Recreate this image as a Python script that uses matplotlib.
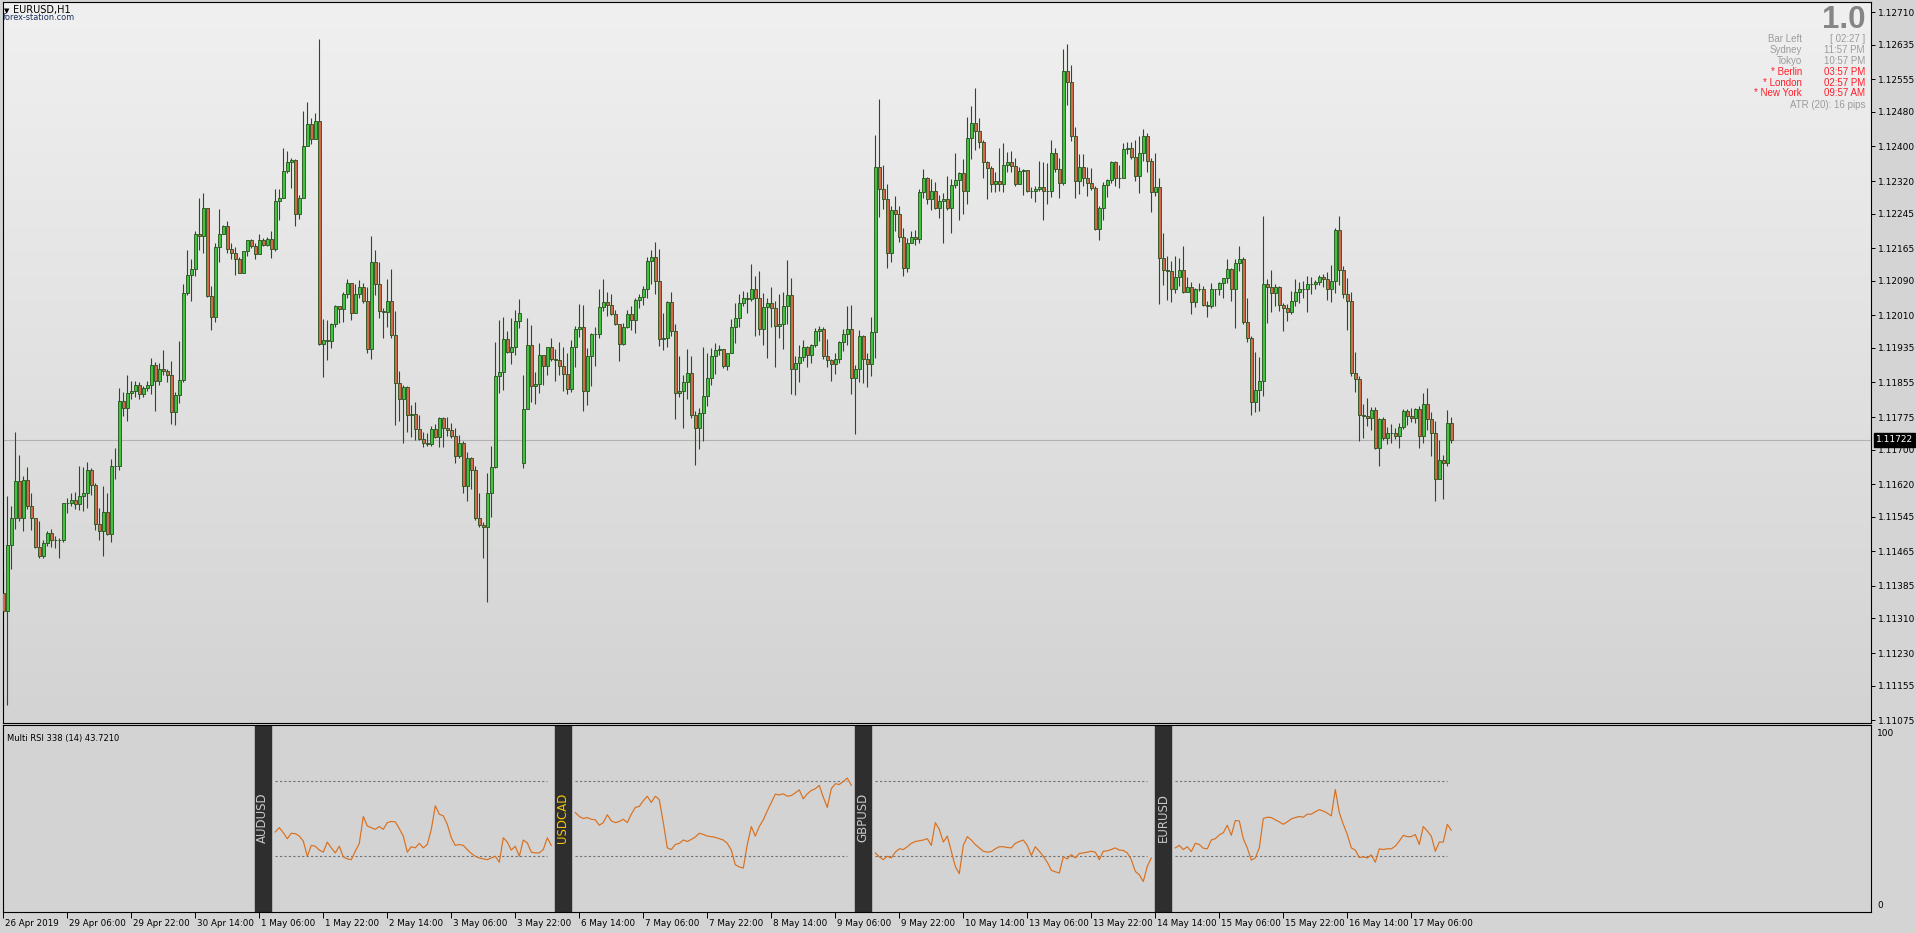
import matplotlib
matplotlib.use('Agg')
import matplotlib.pyplot as plt
import numpy as np
from matplotlib.colors import LinearSegmentedColormap
from matplotlib.transforms import ScaledTranslation, blended_transform_factory

plt.rcParams['font.family'] = ['DejaVu Sans']

# EURUSD H1, prices in points above 1.10000 (1 point = 0.00001)
first_open = 1369
gap_open = {130: 1669}   # weekend gap, 6 May open

close = [
    1328, 1480, 1541, 1628, 1541, 1630, 1569, 1541, 1475, 1455, 1483, 1508, 1492, 1490, 1490, 1577, 1577, 1584, 1574, 1592,
    1600, 1653, 1617, 1529, 1511, 1556, 1504, 1661, 1663, 1813, 1795, 1831, 1836, 1848, 1828, 1841, 1848, 1895, 1859, 1887,
    1882, 1871, 1787, 1826, 1861, 2061, 2103, 2118, 2197, 2194, 2258, 2054, 2006, 2168, 2197, 2217, 2163, 2153, 2141, 2108,
    2158, 2183, 2171, 2151, 2183, 2173, 2186, 2163, 2273, 2280, 2344, 2364, 2368, 2244, 2281, 2400, 2451, 2418, 2459, 1943,
    1953, 1950, 1990, 2031, 2024, 2059, 2085, 2016, 2059, 2075, 2044, 1931, 2134, 2083, 2019, 2017, 2044, 1965, 1854, 1816,
    1844, 1779, 1783, 1747, 1724, 1714, 1712, 1747, 1729, 1772, 1750, 1744, 1732, 1686, 1714, 1615, 1681, 1653, 1541, 1526,
    1521, 1599, 1660, 1869, 1878, 1955, 1925, 1937, 1996, 2016, 1793, 1941, 1846, 1851, 1919, 1892, 1937, 1909, 1907, 1892,
    1874, 1839, 1937, 1978, 1983, 1834, 1915, 1966, 1966, 2029, 2041, 2033, 2013, 1990, 1943, 1982, 2013, 1998, 2045, 2053,
    2070, 2135, 2145, 2090, 1956, 1958, 2041, 1973, 1830, 1835, 1857, 1877, 1779, 1750, 1785, 1824, 1864, 1916, 1930, 1933,
    1893, 1924, 1982, 2004, 2039, 2051, 2047, 2070, 2049, 1978, 2029, 2039, 2026, 1985, 1989, 2031, 2056, 1886, 1900, 1914,
    1936, 1919, 1941, 1973, 1978, 1915, 1907, 1897, 1908, 1948, 1966, 1978, 1864, 1886, 1962, 1910, 1897, 1971, 2352, 2301,
    2278, 2153, 2252, 2244, 2190, 2120, 2177, 2190, 2187, 2295, 2327, 2279, 2296, 2258, 2273, 2278, 2258, 2310, 2322, 2339,
    2297, 2419, 2455, 2435, 2410, 2364, 2349, 2314, 2319, 2313, 2357, 2364, 2354, 2314, 2344, 2346, 2297, 2297, 2301, 2306,
    2297, 2297, 2385, 2347, 2316, 2575, 2549, 2425, 2320, 2352, 2327, 2315, 2303, 2210, 2258, 2311, 2322, 2364, 2326, 2327,
    2395, 2397, 2376, 2331, 2385, 2424, 2366, 2295, 2307, 2143, 2114, 2112, 2070, 2098, 2114, 2063, 2075, 2040, 2071, 2070,
    2033, 2031, 2070, 2070, 2084, 2095, 2117, 2070, 2131, 2141, 1994, 1958, 1809, 1838, 1858, 2083, 2075, 2062, 2075, 2034,
    2027, 2017, 2042, 2063, 2070, 2070, 2082, 2082, 2087, 2098, 2094, 2070, 2090, 2207, 2114, 2058, 2044, 1876, 1863, 1779,
    1777, 1772, 1791, 1703, 1770, 1726, 1739, 1739, 1732, 1752, 1788, 1777, 1772, 1793, 1731, 1804, 1770, 1739, 1633, 1676,
    1668, 1762, 1722,
]

high = [
    1417, 1592, 1570, 1741, 1688, 1638, 1660, 1600, 1541, 1536, 1490, 1511, 1516, 1500, 1495, 1577, 1587, 1600, 1602, 1661,
    1660, 1671, 1658, 1622, 1566, 1616, 1599, 1678, 1704, 1841, 1833, 1871, 1858, 1858, 1856, 1846, 1858, 1912, 1902, 1900,
    1930, 1887, 1904, 1833, 1951, 2082, 2161, 2141, 2204, 2281, 2293, 2258, 2077, 2176, 2255, 2219, 2227, 2176, 2168, 2144,
    2158, 2184, 2186, 2176, 2197, 2188, 2191, 2205, 2301, 2301, 2397, 2390, 2374, 2372, 2288, 2481, 2503, 2466, 2478, 2649,
    2001, 2000, 1993, 2034, 2031, 2064, 2093, 2085, 2083, 2092, 2085, 2075, 2192, 2161, 2134, 2027, 2093, 2117, 2019, 1882,
    1848, 1846, 1802, 1810, 1780, 1741, 1737, 1754, 1758, 1775, 1775, 1775, 1762, 1750, 1734, 1719, 1694, 1683, 1663, 1599,
    1533, 1646, 1709, 1948, 2000, 2007, 1973, 2003, 2022, 2047, 1871, 2003, 1988, 1878, 1946, 1919, 1937, 1958, 1932, 1948,
    1937, 1924, 1953, 1986, 2036, 2034, 1934, 1968, 1983, 2070, 2094, 2064, 2059, 2023, 1988, 1992, 2023, 2032, 2051, 2058,
    2078, 2145, 2161, 2179, 2164, 2016, 2043, 2063, 1990, 1915, 1871, 1931, 1915, 1789, 1795, 1937, 1923, 1934, 1946, 1941,
    1931, 1924, 2001, 2039, 2059, 2067, 2064, 2128, 2100, 2112, 2061, 2049, 2075, 2044, 2059, 2063, 2138, 2096, 1916, 1941,
    1954, 1938, 1943, 1981, 1985, 1982, 1955, 1909, 1922, 1951, 1978, 2032, 2034, 1896, 1975, 1965, 1922, 2007, 2426, 2509,
    2357, 2313, 2263, 2286, 2263, 2212, 2188, 2204, 2207, 2301, 2347, 2329, 2325, 2318, 2288, 2293, 2332, 2325, 2385, 2342,
    2370, 2468, 2494, 2535, 2466, 2415, 2366, 2354, 2342, 2397, 2408, 2387, 2389, 2374, 2352, 2347, 2342, 2306, 2308, 2366,
    2364, 2362, 2415, 2397, 2374, 2625, 2636, 2588, 2445, 2383, 2383, 2352, 2349, 2308, 2263, 2318, 2324, 2367, 2366, 2357,
    2408, 2410, 2410, 2415, 2425, 2441, 2431, 2374, 2385, 2328, 2199, 2147, 2136, 2147, 2143, 2169, 2099, 2088, 2074, 2085,
    2077, 2042, 2084, 2070, 2087, 2095, 2139, 2120, 2139, 2170, 2144, 2049, 1963, 1925, 1914, 2239, 2094, 2115, 2083, 2078,
    2039, 2036, 2066, 2094, 2087, 2090, 2100, 2098, 2092, 2102, 2106, 2110, 2126, 2212, 2239, 2123, 2097, 2064, 1926, 1869,
    1805, 1820, 1799, 1799, 1773, 1774, 1751, 1759, 1749, 1762, 1793, 1793, 1795, 1795, 1800, 1831, 1843, 1787, 1765, 1722,
    1688, 1791, 1774,
]

low = [
    1323, 1109, 1424, 1516, 1536, 1511, 1562, 1513, 1472, 1450, 1450, 1478, 1475, 1472, 1450, 1487, 1554, 1570, 1562, 1560,
    1559, 1564, 1595, 1513, 1492, 1453, 1503, 1487, 1631, 1653, 1778, 1767, 1816, 1821, 1816, 1821, 1834, 1828, 1790, 1848,
    1871, 1856, 1760, 1757, 1808, 1856, 2056, 2042, 2100, 2161, 2154, 2052, 1975, 1995, 2134, 2197, 2153, 2139, 2103, 2107,
    2110, 2146, 2166, 2139, 2151, 2171, 2171, 2143, 2158, 2229, 2280, 2339, 2303, 2217, 2232, 2287, 2400, 2405, 2422, 1941,
    1868, 1907, 1935, 1982, 1993, 1995, 2049, 1998, 2016, 2049, 2039, 1922, 1910, 2056, 2003, 1958, 1983, 1958, 1757, 1765,
    1716, 1741, 1729, 1722, 1722, 1706, 1709, 1709, 1726, 1706, 1706, 1732, 1726, 1668, 1681, 1600, 1580, 1609, 1538, 1521,
    1450, 1348, 1543, 1658, 1831, 1838, 1922, 1897, 1919, 1981, 1658, 1797, 1810, 1805, 1831, 1848, 1873, 1905, 1859, 1871,
    1836, 1829, 1833, 1890, 1960, 1790, 1803, 1846, 1892, 1958, 2019, 2008, 2011, 1988, 1905, 1942, 1980, 1975, 1969, 2026,
    2034, 2051, 2082, 2059, 1940, 1929, 1937, 1961, 1771, 1821, 1750, 1816, 1772, 1665, 1702, 1719, 1801, 1849, 1874, 1919,
    1889, 1883, 1922, 1945, 1983, 2031, 2015, 2042, 1963, 1965, 1942, 1912, 1983, 1891, 1958, 1933, 1990, 1829, 1827, 1855,
    1904, 1891, 1899, 1936, 1950, 1909, 1891, 1859, 1874, 1899, 1927, 1941, 1829, 1735, 1856, 1854, 1845, 1870, 1912, 2237,
    2255, 2120, 2132, 2205, 2180, 2100, 2111, 2177, 2172, 2177, 2281, 2266, 2254, 2256, 2234, 2176, 2253, 2199, 2305, 2229,
    2245, 2266, 2370, 2391, 2396, 2328, 2278, 2295, 2295, 2297, 2295, 2342, 2342, 2309, 2313, 2288, 2295, 2281, 2272, 2297,
    2229, 2266, 2283, 2341, 2280, 2311, 2496, 2413, 2280, 2290, 2308, 2286, 2300, 2207, 2183, 2230, 2283, 2315, 2308, 2305,
    2326, 2382, 2371, 2321, 2293, 2367, 2341, 2249, 2285, 2037, 2081, 2046, 2040, 2062, 2077, 2062, 2064, 2012, 2028, 2067,
    2031, 2007, 2026, 2031, 2056, 2051, 2085, 2043, 1980, 2113, 1990, 1948, 1779, 1786, 1790, 1823, 1993, 2017, 2031, 2019,
    1973, 1996, 2014, 2032, 2039, 2049, 2017, 2058, 2070, 2080, 2075, 2046, 2040, 2061, 2080, 2051, 1975, 1870, 1832, 1719,
    1726, 1755, 1746, 1701, 1661, 1722, 1712, 1716, 1724, 1704, 1747, 1757, 1763, 1762, 1704, 1716, 1746, 1685, 1582, 1631,
    1586, 1661, 1716,
]

last_price = 1.11722

price_labels = [1.12710, 1.12635, 1.12555, 1.12480, 1.12400, 1.12320, 1.12245, 1.12165,
                1.12090, 1.12010, 1.11935, 1.11855, 1.11775, 1.11700, 1.11620, 1.11545,
                1.11465, 1.11385, 1.11310, 1.11230, 1.11155, 1.11075]

time_labels = ["26 Apr 2019", "29 Apr 06:00", "29 Apr 22:00", "30 Apr 14:00", "1 May 06:00",
               "1 May 22:00", "2 May 14:00", "3 May 06:00", "3 May 22:00", "6 May 14:00",
               "7 May 06:00", "7 May 22:00", "8 May 14:00", "9 May 06:00", "9 May 22:00",
               "10 May 14:00", "13 May 06:00", "13 May 22:00", "14 May 14:00", "15 May 06:00",
               "15 May 22:00", "16 May 14:00", "17 May 06:00"]

# Multi RSI sub window: one block of 70 bars per symbol
rsi_names = ["AUDUSD", "USDCAD", "GBPUSD", "EURUSD"]
rsi_start = [68, 143, 218, 293]
rsi_audusd = [42.8, 45.1, 42.4, 39.2, 42.1, 41.9, 40.6, 37.9, 29.8, 35.6,
              35.2, 33.1, 32.0, 37.4, 34.3, 31.6, 35.2, 29.5, 28.4, 28.0,
              32.5, 36.7, 51.1, 46.0, 45.1, 44.2, 45.7, 44.2, 47.8, 48.4,
              48.2, 44.6, 40.6, 32.0, 34.9, 34.3, 36.7, 34.3, 36.1, 44.2,
              56.8, 52.3, 51.4, 46.9, 39.7, 35.6, 36.1, 35.6, 33.4, 31.3,
              29.8, 28.9, 28.4, 28.0, 28.9, 29.8, 26.6, 39.7, 37.4, 33.1,
              35.2, 29.8, 38.5, 37.0, 32.0, 31.6, 31.6, 33.4, 39.7, 35.6]
rsi_usdcad = [53.2, 51.1, 50.0, 50.5, 49.6, 49.3, 46.4, 47.8, 52.0, 48.7,
              47.8, 48.4, 49.6, 47.8, 52.3, 55.9, 56.5, 59.5, 61.9, 58.6,
              61.9, 60.1, 47.8, 34.3, 33.4, 36.1, 36.7, 38.5, 37.7, 38.8,
              40.1, 42.1, 41.5, 40.6, 40.3, 39.9, 39.2, 38.5, 36.7, 33.1,
              25.3, 24.1, 23.5, 36.1, 45.7, 40.6, 45.7, 49.3, 54.1, 58.6,
              63.0, 62.6, 63.2, 61.9, 62.3, 63.7, 65.3, 60.5, 63.2, 65.0,
              65.9, 67.7, 61.4, 55.9, 65.9, 68.6, 68.2, 69.8, 71.6, 67.7]
rsi_gbpusd = [31.6, 29.5, 28.0, 29.8, 28.9, 32.0, 33.8, 33.4, 34.9, 36.7,
              37.7, 38.1, 38.5, 39.2, 35.6, 47.8, 44.2, 37.4, 40.6, 32.5,
              24.4, 20.5, 35.6, 40.3, 38.5, 36.1, 34.3, 32.5, 32.0, 32.3,
              33.8, 34.9, 34.9, 34.5, 34.3, 36.7, 37.7, 38.5, 35.6, 30.2,
              34.9, 32.5, 29.8, 26.6, 22.3, 21.5, 20.8, 29.5, 28.4, 30.7,
              28.9, 31.3, 31.6, 32.0, 32.5, 32.0, 28.0, 32.5, 32.7, 33.4,
              34.3, 33.1, 32.9, 31.6, 28.0, 21.7, 19.9, 16.3, 24.4, 28.9]
rsi_eurusd = [34.3, 35.6, 33.4, 34.9, 32.3, 36.7, 36.1, 34.1, 33.8, 38.5,
              39.2, 41.2, 42.4, 46.4, 41.0, 48.9, 48.7, 39.2, 34.3, 27.7,
              28.9, 34.3, 50.0, 50.7, 50.5, 49.3, 48.2, 46.9, 48.2, 49.8,
              50.5, 51.1, 50.7, 52.3, 52.3, 53.6, 54.7, 54.0, 52.9, 51.4,
              65.5, 53.2, 46.9, 41.5, 34.3, 33.1, 29.1, 29.5, 28.9, 30.5,
              26.6, 33.8, 33.4, 33.8, 33.8, 35.2, 37.9, 41.0, 40.3, 40.3,
              41.4, 36.1, 45.7, 43.3, 40.6, 32.5, 37.4, 37.4, 46.9, 43.7]
rsi_levels = [30, 70]

info_left = ["Bar Left", "Sydney", "Tokyo", "* Berlin", "* London", "* New York"]
info_right = ["[ 02:27 ]", "11:57 PM", "10:57 PM", "03:57 PM", "02:57 PM", "09:57 AM"]
info_red = [False, False, False, True, True, True]


W, H = 1916, 933
fig = plt.figure(figsize=(W / 100, H / 100), dpi=100, facecolor='#d4d4d4')


def px_box(x0, y0, x1, y1):
    return [x0 / W, 1 - y1 / H, (x1 - x0) / W, (y1 - y0) / H]


ax = fig.add_axes(px_box(3, 2, 1871, 723))
rx = fig.add_axes(px_box(3, 725, 1871, 912))

x_lo, x_hi = -0.075, 466.925
y_lo, y_hi = 1.110684, 1.127335

# gradient background of the price window
grad = np.linspace(0, 1, 256).reshape(-1, 1)
bg = LinearSegmentedColormap.from_list('bg', ['#f0f0f0', '#d3d3d3'])
ax.imshow(grad, cmap=bg, aspect='auto', extent=(x_lo, x_hi, y_lo, y_hi),
          origin='upper', zorder=0)

# candles
c = 1.1 + np.array(close) / 1e5
o_pts = [first_open] + close[:-1]
for k, v in gap_open.items():
    o_pts[k] = v
o = 1.1 + np.array(o_pts) / 1e5
hi = np.maximum(1.1 + np.array(high) / 1e5, np.maximum(o, c))
lo = np.minimum(1.1 + np.array(low) / 1e5, np.minimum(o, c))
xs = np.arange(len(close))

wick = '#24501a'
ax.axhline(last_price, color='#b2b2b2', lw=0.8, zorder=1)
ax.vlines(xs, lo, hi, color=wick, lw=0.8, zorder=2)
up = c >= o
ax.bar(xs, np.abs(c - o), bottom=np.minimum(o, c), width=0.62,
       color=np.where(up, '#41c241', '#d2694a'), edgecolor=wick,
       linewidth=0.6, zorder=3)

ax.set_xlim(x_lo, x_hi)
ax.set_ylim(y_lo, y_hi)
ax.set_xticks([])
ax.yaxis.tick_right()
ax.set_yticks(price_labels)
ax.set_yticklabels([f'{v:.5f}' for v in price_labels])
ax.tick_params(axis='y', direction='out', length=3, width=0.7, pad=2,
               labelsize=6.5, colors='black')
for s in ax.spines.values():
    s.set_color('black')
    s.set_linewidth(0.8)

# last price tag
tr = blended_transform_factory(ax.transAxes, ax.transData)
ax.text(1.0, last_price, f'{last_price:.5f}', transform=tr + ScaledTranslation(5 / 100, 0, fig.dpi_scale_trans),
        ha='left', va='center', fontsize=6.5, color='white', clip_on=False, zorder=10,
        bbox=dict(boxstyle='square,pad=0.25', fc='black', ec='black'))

# titles
fig.text(3.5 / W, 1 - 11 / H, '\u25bc', fontsize=5, color='black', va='center', ha='left')
fig.text(12.5 / W, 1 - 10.5 / H, 'EURUSD,H1', fontsize=7, color='black', va='center', ha='left')
fig.text(3 / W, 1 - 17.5 / H, 'forex-station.com', fontsize=5.9, color='#1a2f5a', va='center', ha='left')

# info panel top right
fig.text(1865 / W, 1 - 20.5 / H, '1.0', fontsize=22.5, fontweight='bold', color='#858585',
         family='Liberation Sans', ha='right', va='center')
for k in range(len(info_left)):
    col = '#ff1e2a' if info_red[k] else '#9c9c9c'
    yy = 1 - (39 + 10.9 * k) / H
    fig.text(1802 / W, yy, info_left[k], fontsize=7, color=col, family='Liberation Sans',
             ha='right', va='center')
    fig.text(1865 / W, yy, info_right[k], fontsize=7, color=col, family='Liberation Sans',
             ha='right', va='center')
fig.text(1865 / W, 1 - 105 / H, 'ATR (20): 16 pips', fontsize=7, color='#9c9c9c',
         family='Liberation Sans', ha='right', va='center')

# RSI window
rx.set_facecolor('#d3d3d3')
rx.set_xlim(x_lo, x_hi)
rx.set_ylim(0, 100)
rx.set_yticks([])
series = [rsi_audusd, rsi_usdcad, rsi_gbpusd, rsi_eurusd]
for name, s0, vals in zip(rsi_names, rsi_start, series):
    rx.axvspan(s0 - 5.1, s0 - 1.1, color='#2e2e2e', zorder=1)
    rx.text(s0 - 3.1, 50.5, name, rotation=90, ha='center', va='center', fontsize=8.5,
            color='#f2c40c' if name == 'USDCAD' else '#c8c8c8', zorder=3)
    rx.hlines(rsi_levels, s0, s0 + 68, colors='#707070', linestyles=(0, (2, 2)), lw=0.8, zorder=2)
    rx.plot(s0 + np.arange(len(vals)), vals, color='#d9701e', lw=0.85, zorder=3)

rx.text(0.002, 0.93, 'Multi RSI 338 (14) 43.7210', transform=rx.transAxes, fontsize=6,
        color='black', ha='left', va='center')
fig.text(1877 / W, 1 - 733 / H, '100', fontsize=6.5, color='black', ha='left', va='center')
fig.text(1877 / W, 1 - 906 / H, '0', fontsize=6.5, color='black', ha='left', va='center')

rx.set_xticks(np.arange(len(time_labels)) * 16)
rx.set_xticklabels(time_labels, ha='left')
rx.tick_params(axis='x', direction='out', length=4, width=0.7, pad=1, labelsize=6.3)
for lab in rx.get_xticklabels():
    lab.set_transform(lab.get_transform() + ScaledTranslation(2 / 100, 0, fig.dpi_scale_trans))
for s in rx.spines.values():
    s.set_color('black')
    s.set_linewidth(0.8)

fig.savefig('out.png', dpi=100, facecolor=fig.get_facecolor())
